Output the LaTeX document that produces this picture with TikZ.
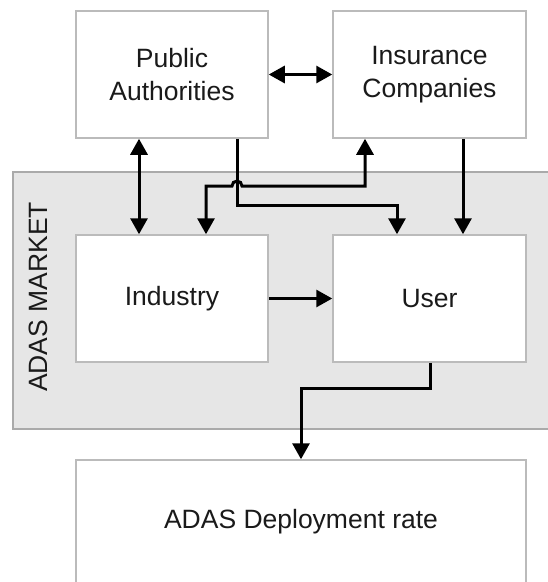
\documentclass[tikz,border=0pt]{standalone}
\usepackage{fontspec}
\setmainfont{Liberation Sans}
\usetikzlibrary{arrows.meta}
\definecolor{boxline}{HTML}{BBBBBB}
\definecolor{mkfill}{HTML}{E6E6E6}
\definecolor{mkline}{HTML}{AAAAAA}
\definecolor{txt}{HTML}{1A1A1A}
\tikzset{
  box/.style={draw=boxline, line width=1.5pt, fill=white, minimum width=192pt, minimum height=127pt,
    inner sep=0pt, align=center, text=txt, font=\fontsize{26.5}{33}\selectfont},
  conn/.style={line width=3pt, black, {Triangle[length=16pt,width=17pt]}-{Triangle[length=16pt,width=17pt]}},
  conn1/.style={line width=3pt, black, -{Triangle[length=16pt,width=17pt]}}
}
\begin{document}
\begin{tikzpicture}[x=1pt,y=-1pt]
\useasboundingbox (0,0) rectangle (548,582);
% market region
\node[draw=mkline, line width=1.5pt, fill=mkfill, minimum width=560pt, minimum height=257pt, inner sep=0pt, anchor=north west] (MK) at (12,171) {};
\node[rotate=90, text=txt, font=\fontsize{26.5}{33}\selectfont] (MKT) at (38,297) {ADAS MARKET};
% boxes
\node[box] (PA) at (172,74.5) {Public\\Authorities};
\node[box, minimum width=193pt] (IC) at (429.5,74.5) {Insurance\\Companies};
\node[box] (IN) at (172,298.5) {Industry};
\node[box, minimum width=193pt] (US) at (429.5,298.5) {User};
\node[box, minimum width=450pt, minimum height=124pt] (DR) at (301,522) {ADAS Deployment rate};
% helper coordinates
\coordinate (a1) at (139,0);
\coordinate (p1) at (237,205);
\coordinate (p2) at (397,205);
\coordinate (q1) at (206,186);
\coordinate (h1) at (232,186);
\coordinate (q2) at (365,186);
\coordinate (r1) at (463,0);
\coordinate (s1) at (430,388);
\coordinate (s2) at (301,388);
% connectors
\draw[conn] (PA) -- (IC);
\draw[conn] (PA.south -| a1) -- (IN.north -| a1);
\draw[conn1] (PA.south -| p1) -- (p1) -- (p2) -- (US.north -| p2);
\draw[conn] (IN.north -| q1) -- (q1) -- (h1) arc[start angle=180, end angle=0, radius=5pt] -- (q2) -- (IC.south -| q2);
\draw[conn1] (IC.south -| r1) -- (US.north -| r1);
\draw[conn1] (IN) -- (US);
\draw[conn1] (US.south -| s1) -- (s1) -- (s2) -- (DR.north -| s2);
\end{tikzpicture}
\end{document}
